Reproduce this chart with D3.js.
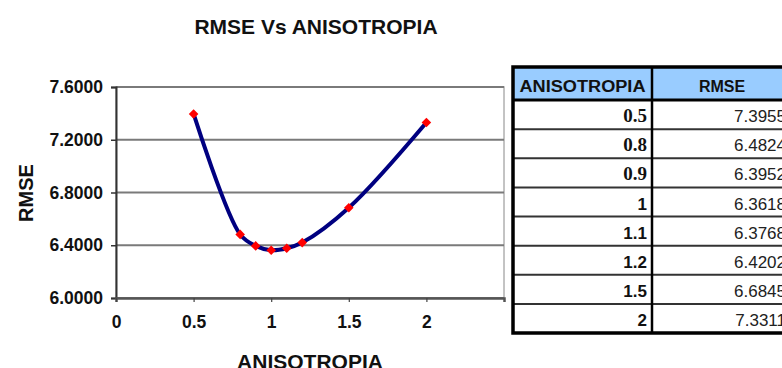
<!DOCTYPE html>
<html>
<head>
<meta charset="utf-8">
<script src="https://cdn.jsdelivr.net/npm/d3@7"></script>
<style>
  body { margin: 0; background: #fff; }
  svg { display: block; font-family: "Liberation Sans", Arial, sans-serif; }
</style>
</head>
<body>
<div id="chart"></div>
<script>
// data
var anisotropia = [0.5, 0.8, 0.9, 1, 1.1, 1.2, 1.5, 2];
var rmse = [7.3955, 6.4824, 6.3952, 6.3618, 6.3768, 6.4202, 6.6845, 7.3311];
var anisoLabels = ["0.5", "0.8", "0.9", "1", "1.1", "1.2", "1.5", "2"];
var rmseLabels = ["7.3955", "6.4824", "6.3952", "6.3618", "6.3768", "6.4202", "6.6845", "7.3311"];
var xTicks = [0, 0.5, 1, 1.5, 2];
var yTicks = [6.0, 6.4, 6.8, 7.2, 7.6];
var tableHeaders = ["ANISOTROPIA", "RMSE"];

var width = 782, height = 368;

var svg = d3.select("#chart").append("svg")
    .attr("width", width)
    .attr("height", height);

var x = d3.scaleLinear().domain([0, 2.5]).range([116, 504]);
var y = d3.scaleLinear().domain([6.0, 7.6]).range([298, 87]);

// plot area border
svg.append("rect")
    .attr("x", x(0)).attr("y", y(7.6))
    .attr("width", x(2.5) - x(0)).attr("height", y(6.0) - y(7.6))
    .attr("fill", "#fff")
    .attr("stroke", "#b0b0b0")
    .attr("stroke-width", 1.5);

// gridlines
svg.append("g").selectAll("line")
    .data(yTicks)
    .enter().append("line")
    .attr("x1", x(0)).attr("x2", x(2.5))
    .attr("y1", function (d) { return y(d); })
    .attr("y2", function (d) { return y(d); })
    .attr("stroke", "#7a7a7a")
    .attr("stroke-width", 2);

// y axis
var yAxis = d3.axisLeft(y).tickValues(yTicks).tickSize(5).tickPadding(8)
    .tickFormat(d3.format(".4f"));
var gy = svg.append("g")
    .attr("transform", "translate(" + x(0) + ",0)")
    .call(yAxis);
gy.select(".domain").attr("stroke", "#333").attr("stroke-width", 2);
gy.selectAll(".tick line").attr("stroke", "#333").attr("stroke-width", 1.5);
gy.selectAll("text")
    .attr("font-size", 17.5).attr("font-weight", "bold").attr("fill", "#111")
    .attr("font-family", "Liberation Sans, Arial, sans-serif");

// x axis
var xAxis = d3.axisBottom(x).tickValues(xTicks).tickSize(4).tickPadding(14)
    .tickFormat(function (d) { return String(d); });
var gx = svg.append("g")
    .attr("transform", "translate(0," + y(6.0) + ")")
    .call(xAxis);
gx.select(".domain").attr("stroke", "#555").attr("stroke-width", 2.5);
gx.selectAll(".tick line").attr("stroke", "#444").attr("stroke-width", 1.2);
gx.selectAll("text")
    .attr("font-size", 17.5).attr("font-weight", "bold").attr("fill", "#111")
    .attr("font-family", "Liberation Sans, Arial, sans-serif");

// titles
svg.append("text")
    .attr("x", 316).attr("y", 34)
    .attr("text-anchor", "middle")
    .attr("font-size", 21).attr("font-weight", "bold").attr("fill", "#111")
    .text("RMSE Vs ANISOTROPIA");

svg.append("text")
    .attr("transform", "translate(33,193) rotate(-90)")
    .attr("text-anchor", "middle")
    .attr("font-size", 20).attr("font-weight", "bold").attr("fill", "#111")
    .text("RMSE");

svg.append("text")
    .attr("x", 310).attr("y", 369)
    .attr("text-anchor", "middle")
    .attr("font-size", 21).attr("font-weight", "bold").attr("fill", "#111")
    .text("ANISOTROPIA");

// line + markers
var points = anisotropia.map(function (a, i) { return [a, rmse[i]]; });

var line = d3.line()
    .x(function (d) { return x(d[0]); })
    .y(function (d) { return y(d[1]); })
    .curve(d3.curveCatmullRom.alpha(0.5));

svg.append("path")
    .datum(points)
    .attr("d", line)
    .attr("fill", "none")
    .attr("stroke", "#000080")
    .attr("stroke-width", 4);

svg.selectAll(".marker")
    .data(points)
    .enter().append("path")
    .attr("class", "marker")
    .attr("d", d3.symbol(d3.symbolSquare, 46))
    .attr("transform", function (d) {
        return "translate(" + x(d[0]) + "," + y(d[1]) + ") rotate(45)";
    })
    .attr("fill", "#ff0000");

// table
var colX = [513, 652, 792];
var headTop = 67, headBottom = 100;
var row = d3.scaleBand().domain(d3.range(anisotropia.length)).range([headBottom, 333]);

var tbl = svg.append("g");

tbl.append("rect")
    .attr("x", colX[0]).attr("y", headTop)
    .attr("width", colX[2] - colX[0]).attr("height", headBottom - headTop)
    .attr("fill", "#99ccff");

// row separators
tbl.selectAll(".rowline")
    .data(d3.range(1, anisotropia.length))
    .enter().append("line")
    .attr("x1", colX[0]).attr("x2", colX[2])
    .attr("y1", function (i) { return row(i); })
    .attr("y2", function (i) { return row(i); })
    .attr("stroke", "#333")
    .attr("stroke-width", 2);

tbl.append("line")
    .attr("x1", colX[0]).attr("x2", colX[2])
    .attr("y1", headBottom).attr("y2", headBottom)
    .attr("stroke", "#000").attr("stroke-width", 3);

// column divider
tbl.append("line")
    .attr("x1", colX[1]).attr("x2", colX[1])
    .attr("y1", headTop).attr("y2", 333)
    .attr("stroke", "#000").attr("stroke-width", 2.5);

// outer border
tbl.append("path")
    .attr("d", "M" + colX[2] + "," + headTop + "H" + colX[0] + "V333H" + colX[2])
    .attr("fill", "none")
    .attr("stroke", "#000")
    .attr("stroke-width", 3.5);

tbl.append("text")
    .attr("x", (colX[0] + colX[1]) / 2).attr("y", 92)
    .attr("text-anchor", "middle")
    .attr("font-size", 16).attr("font-weight", "bold").attr("fill", "#111")
    .attr("textLength", 126).attr("lengthAdjust", "spacingAndGlyphs")
    .text(tableHeaders[0]);

tbl.append("text")
    .attr("x", 722).attr("y", 92)
    .attr("text-anchor", "middle")
    .attr("font-size", 16).attr("font-weight", "bold").attr("fill", "#111")
    .text(tableHeaders[1]);

tbl.selectAll(".aniso")
    .data(anisoLabels)
    .enter().append("text")
    .attr("x", colX[1] - 5)
    .attr("y", function (d, i) { return row(i) + row.bandwidth() - 7; })
    .attr("text-anchor", "end")
    .attr("font-size", function (d, i) { return i < 3 ? 19 : 17; })
    .attr("font-weight", "bold").attr("fill", "#111")
    .attr("font-family", function (d, i) { return i < 3 ? "Liberation Serif, serif" : "Liberation Sans, Arial, sans-serif"; })
    .text(function (d) { return d; });

tbl.selectAll(".rmse")
    .data(rmseLabels)
    .enter().append("text")
    .attr("x", 786)
    .attr("y", function (d, i) { return row(i) + row.bandwidth() - 7; })
    .attr("text-anchor", "end")
    .attr("font-size", 17).attr("fill", "#222")
    .text(function (d) { return d; });
</script>
</body>
</html>
